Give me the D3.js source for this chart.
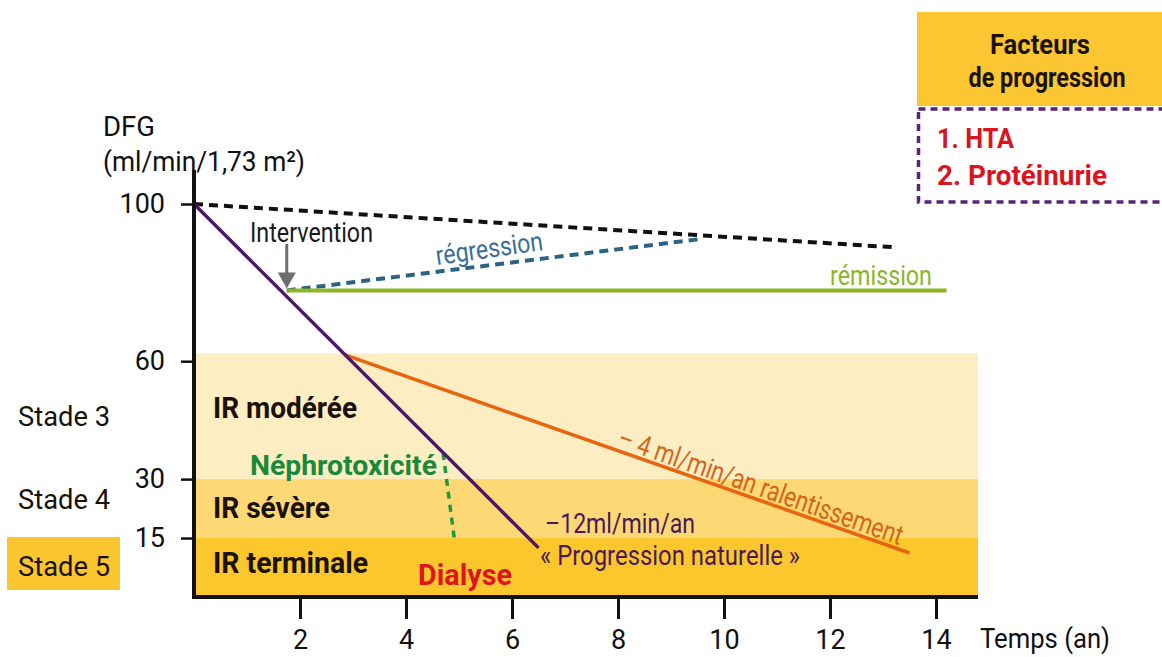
<!DOCTYPE html>
<html>
<head>
<meta charset="utf-8">
<script src="https://cdn.jsdelivr.net/npm/d3@7"></script>
<style>
  body { margin: 0; background: #fff; }
  text { font-family: Roboto, "Liberation Sans", sans-serif; }
</style>
</head>
<body>
<svg id="svg"></svg>
<script>
// data
var yTicks = [100, 60, 30, 15];
var xTicks = [2, 4, 6, 8, 10, 12, 14];

var bands = [
    {name: "IR modérée", lo: 30, hi: 62, color: "#fdedc2"},
    {name: "IR sévère", lo: 15, hi: 30, color: "#fdd874"},
    {name: "IR terminale", lo: 0, hi: 15, color: "#fcc72c"}
];

var naturalLine = [[0, 100], [6.5, 12.5]];          // "progression naturelle"
var normalLine = [[0, 100], [13.2, 89]];            // dashed black
var remissionLine = [[1.75, 78], [14.2, 78]];
var regressionLine = [[1.75, 78], [9.5, 91]];
var slowLine = [[2.85, 61.6], [13.5, 11.2]];        // ralentissement
var nephroLine = [[4.7, 36.6], [4.92, 14]];

var stades = ["Stade 3", "Stade 4", "Stade 5"];
var facteurs = ["1. HTA", "2. Protéinurie"];

//////////////////////////////////////////////////////////////////////////////

var width = 1162, height = 657;
var svg = d3.select("#svg").attr("width", width).attr("height", height);

var x = d3.scaleLinear().domain([0, 14]).range([194, 936]);
var y = d3.scaleLinear().domain([0, 100]).range([597, 204]);
var xEnd = 978;

var line = d3.line().x(function(d) { return x(d[0]); }).y(function(d) { return y(d[1]); });

// condensed-looking text: squeeze to the width measured on the picture
function label(str, px, py, o) {
    var t = svg.append("text").attr("x", px).attr("y", py)
        .attr("font-size", o.size || 28)
        .attr("fill", o.color || "#1a1208")
        .attr("font-weight", o.bold ? "bold" : null)
        .attr("text-anchor", o.anchor || null);
    if (o.len) t.attr("textLength", o.len).attr("lengthAdjust", "spacingAndGlyphs");
    if (o.rotate) t.attr("transform", "rotate(" + o.rotate + "," + px + "," + py + ")");
    t.text(str);
    return t;
}

// bands
svg.selectAll("rect.band").data(bands).enter().append("rect")
    .attr("class", "band")
    .attr("x", x(0)).attr("width", xEnd - x(0))
    .attr("y", function(d) { return y(d.hi); })
    .attr("height", function(d) { return y(d.lo) - y(d.hi); })
    .attr("fill", function(d) { return d.color; });

var bandLen = [144, 117, 155];
bands.forEach(function(d, i) {
    label(d.name, 213, [418, 518, 573][i], {bold: true, size: 29, len: bandLen[i]});
});

// lines
function drawLine(data, color, w, dash) {
    svg.append("path").datum(data).attr("d", line)
        .attr("fill", "none").attr("stroke", color).attr("stroke-width", w)
        .attr("stroke-dasharray", dash || null);
}
drawLine(normalLine, "#111", 4, "9,6");
drawLine(regressionLine, "#2a6383", 4, "9,6");
drawLine(remissionLine, "#8db528", 4);
drawLine(slowLine, "#e8650f", 3.5);
drawLine(nephroLine, "#1f9a3c", 3.5, "7,6");
drawLine(naturalLine, "#4a1a68", 3.5);

// axes
var xAxis = d3.axisBottom(x).tickValues(xTicks).tickSize(22).tickPadding(11);
var gx = svg.append("g").attr("transform", "translate(0," + y(0) + ")").call(xAxis);
gx.select(".domain").remove();
gx.selectAll(".tick line").attr("stroke", "#111").attr("stroke-width", 3);
gx.selectAll(".tick text").attr("font-size", 27).attr("fill", "#111").attr("font-family", null);
svg.append("line").attr("x1", x(0) - 1.5).attr("x2", xEnd).attr("y1", y(0)).attr("y2", y(0))
    .attr("stroke", "#111").attr("stroke-width", 4);

var yAxis = d3.axisLeft(y).tickValues(yTicks).tickSize(13).tickPadding(16);
var gy = svg.append("g").attr("transform", "translate(" + x(0) + ",0)").call(yAxis);
gy.select(".domain").remove();
gy.selectAll(".tick line").attr("stroke", "#111").attr("stroke-width", 2.5);
gy.selectAll(".tick text").attr("font-size", 27).attr("fill", "#111").attr("font-family", null);
svg.append("line").attr("x1", x(0)).attr("x2", x(0)).attr("y1", 170).attr("y2", y(0) + 2)
    .attr("stroke", "#111").attr("stroke-width", 4);

label("DFG", 103, 136, {color: "#111", len: 52});
label("(ml/min/1,73 m²)", 103, 171, {color: "#111", len: 202});

label("Temps (an)", 980, 648, {color: "#111", len: 130});

// intervention arrow
var ix = x(remissionLine[0][0]), iy = y(remissionLine[0][1]);
svg.append("line").attr("x1", ix).attr("x2", ix).attr("y1", 244).attr("y2", iy - 14)
    .attr("stroke", "#6e6e72").attr("stroke-width", 3);
svg.append("path").attr("d", d3.line()([[ix - 9, iy - 18], [ix + 9, iy - 18], [ix, iy - 2]]))
    .attr("fill", "#6e6e72");
label("Intervention", 250, 242, {color: "#1a1a1a", len: 123});

// annotations
label("régression", 437, 265, {color: "#3a6f98", size: 27, len: 108, rotate: -8});
label("rémission", 830, 285, {color: "#8db528", size: 27, len: 102});
label("– 4 ml/min/an ralentissement", 616, 446, {color: "#d2661a", len: 300, rotate: 19.3});
label("–12ml/min/an", 545, 533, {color: "#4a1a58", len: 150});
label("« Progression naturelle »", 540, 565, {color: "#4a1a58", len: 260});
label("Néphrotoxicité", 250, 475, {color: "#1a8a3a", bold: true, len: 187});
label("Dialyse", 418, 585, {color: "#e0141e", bold: true, size: 30, len: 94});

// stades
svg.append("rect").attr("x", 7).attr("y", 537).attr("width", 113).attr("height", 53).attr("fill", "#fbc530");
stades.forEach(function(s, i) {
    label(s, 18, [426, 509, 576][i], {color: "#1a1208", len: 92});
});

// facteurs box
svg.append("rect").attr("x", 917).attr("y", 12).attr("width", 260).attr("height", 94).attr("fill", "#fbc632");
label("Facteurs", 1040, 54, {bold: true, anchor: "middle", len: 100});
label("de progression", 1047, 87, {bold: true, anchor: "middle", len: 157});
svg.append("rect").attr("x", 918.5).attr("y", 109).attr("width", 260).attr("height", 93)
    .attr("fill", "none").attr("stroke", "#5a2578").attr("stroke-width", 3.5).attr("stroke-dasharray", "7,5");
var factLen = [77, 170];
facteurs.forEach(function(f, i) {
    label(f, 937, 148 + i * 37, {bold: true, color: "#d9141e", len: factLen[i]});
});
</script>
</body>
</html>
